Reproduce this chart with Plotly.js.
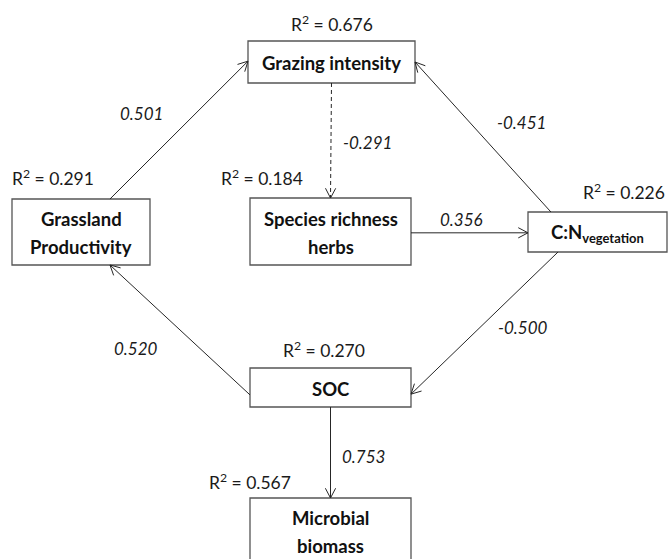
<!DOCTYPE html>
<html>
<head>
<meta charset="utf-8">
<script src="https://cdn.plot.ly/plotly-3.0.1.min.js"></script>
<style>
  html, body { margin: 0; padding: 0; background: #fff; }
  #chart { width: 669px; height: 559px; }
</style>
</head>
<body>
<div id="chart"></div>
<script>
// Structural equation model: variables, explained variance and path coefficients
const nodeNames = ['Grazing intensity', 'Grassland<br>Productivity', 'Species richness<br>herbs',
                   'C:N<sub>vegetation</sub>', 'SOC', 'Microbial<br>biomass'];
const rSquared = [0.676, 0.291, 0.184, 0.226, 0.270, 0.567];

const pathFrom = [1, 0, 3, 2, 3, 4, 4];
const pathTo   = [0, 2, 0, 3, 4, 1, 5];
const pathCoef = [0.501, -0.291, -0.451, 0.356, -0.500, 0.520, 0.753];
const pathSignificant = [true, false, true, true, true, true, true];

// ---- drawing geometry (pixel units; y grows downward) ----
const boxes = [
  {x0: 248, x1: 415, y0: 41,  y1: 83},   // Grazing intensity
  {x0: 12,  x1: 150, y0: 199, y1: 265},  // Grassland productivity
  {x0: 250, x1: 411, y0: 198, y1: 265},  // Species richness herbs
  {x0: 528, x1: 667, y0: 212, y1: 252},  // C:N vegetation
  {x0: 250, x1: 411, y0: 368, y1: 407},  // SOC
  {x0: 250, x1: 411, y0: 498, y1: 590}   // Microbial biomass
];
// where each path leaves its source box and enters its target box
const anchors = [
  {from: ['top', 0.71],    to: ['left', 0.48]},
  {from: ['bottom', 0.5],  to: ['top', 0.5]},
  {from: ['top', 0.165],   to: ['right', 0.5]},
  {from: ['right', 0.52],  to: ['left', 0.52]},
  {from: ['bottom', 0.216],to: ['right', 0.67]},
  {from: ['left', 0.69],   to: ['bottom', 0.71]},
  {from: ['bottom', 0.5],  to: ['top', 0.5]}
];
// label placement: [x, y, horizontal anchor]
const r2Pos   = [[332, 23, 'center'], [53, 177, 'center'], [262, 177, 'center'],
                 [667, 191, 'right'], [324, 349, 'center'], [250, 481, 'center']];
const coefPos = [[141, 113], [367, 142], [521, 122], [461, 219], [523, 327], [136, 348], [363, 456]];
const linePitch = 28;
const microbialTextTop = 518;

const FONT = 'Lato, "Open Sans", sans-serif';
const EDGE_COLOR = '#262626';
const BOX_COLOR = '#555555';

function anchorPoint(b, side, t) {
  if (side === 'top')    return [b.x0 + (b.x1 - b.x0) * t, b.y0];
  if (side === 'bottom') return [b.x0 + (b.x1 - b.x0) * t, b.y1];
  if (side === 'left')   return [b.x0, b.y0 + (b.y1 - b.y0) * t];
  return [b.x1, b.y0 + (b.y1 - b.y0) * t];
}

const shapes = [];
const annotations = [];

// boxes
boxes.forEach(b => {
  shapes.push({type: 'rect', xref: 'x', yref: 'y', x0: b.x0, x1: b.x1, y0: b.y0, y1: b.y1,
               line: {color: BOX_COLOR, width: 1.3}, fillcolor: '#ffffff', layer: 'below'});
});

// paths with open V arrowheads
pathCoef.forEach((c, i) => {
  const a = anchors[i];
  const p0 = anchorPoint(boxes[pathFrom[i]], a.from[0], a.from[1]);
  const p1 = anchorPoint(boxes[pathTo[i]], a.to[0], a.to[1]);
  shapes.push({type: 'line', xref: 'x', yref: 'y', x0: p0[0], y0: p0[1], x1: p1[0], y1: p1[1],
               line: {color: EDGE_COLOR, width: 1, dash: pathSignificant[i] ? 'solid' : '4px,3px'}});
  const ang = Math.atan2(p1[1] - p0[1], p1[0] - p0[0]);
  const len = 11, spread = Math.PI / 6.5;
  const l = [p1[0] - len * Math.cos(ang - spread), p1[1] - len * Math.sin(ang - spread)];
  const r = [p1[0] - len * Math.cos(ang + spread), p1[1] - len * Math.sin(ang + spread)];
  shapes.push({type: 'path', xref: 'x', yref: 'y',
               path: `M ${l[0]} ${l[1]} L ${p1[0]} ${p1[1]} L ${r[0]} ${r[1]}`,
               line: {color: EDGE_COLOR, width: 1}});
  annotations.push({x: coefPos[i][0], y: coefPos[i][1], xref: 'x', yref: 'y', showarrow: false,
                    text: '<i>' + c.toFixed(3) + '</i>',
                    font: {family: FONT, size: 17, color: '#1a1a1a'}});
});

// node names (one annotation per text line)
nodeNames.forEach((name, i) => {
  const b = boxes[i];
  const lines = name.split('<br>');
  let cy = (b.y0 + b.y1) / 2 - (lines.length - 1) * linePitch / 2 + 1;
  if (i === 5) cy = microbialTextTop;
  lines.forEach((t, k) => {
    annotations.push({x: (b.x0 + b.x1) / 2, y: cy + k * linePitch, xref: 'x', yref: 'y',
                      showarrow: false, text: '<b>' + t + '</b>',
                      font: {family: FONT, size: 18.5, color: '#111111'}});
  });
});

// explained variance labels
rSquared.forEach((v, i) => {
  annotations.push({x: r2Pos[i][0], y: r2Pos[i][1], xref: 'x', yref: 'y', showarrow: false,
                    xanchor: r2Pos[i][2],
                    text: 'R<sup>2</sup> = ' + v.toFixed(3),
                    font: {family: FONT, size: 17.5, color: '#1a1a1a'}});
});

const layout = {
  width: 669, height: 559,
  margin: {l: 0, r: 0, t: 0, b: 0},
  paper_bgcolor: '#ffffff', plot_bgcolor: '#ffffff',
  xaxis: {range: [0, 669], visible: false, fixedrange: true},
  yaxis: {range: [559, 0], visible: false, fixedrange: true},
  shapes: shapes,
  annotations: annotations,
  showlegend: false
};

Plotly.newPlot('chart', [], layout, {displayModeBar: false, staticPlot: true});
</script>
</body>
</html>
